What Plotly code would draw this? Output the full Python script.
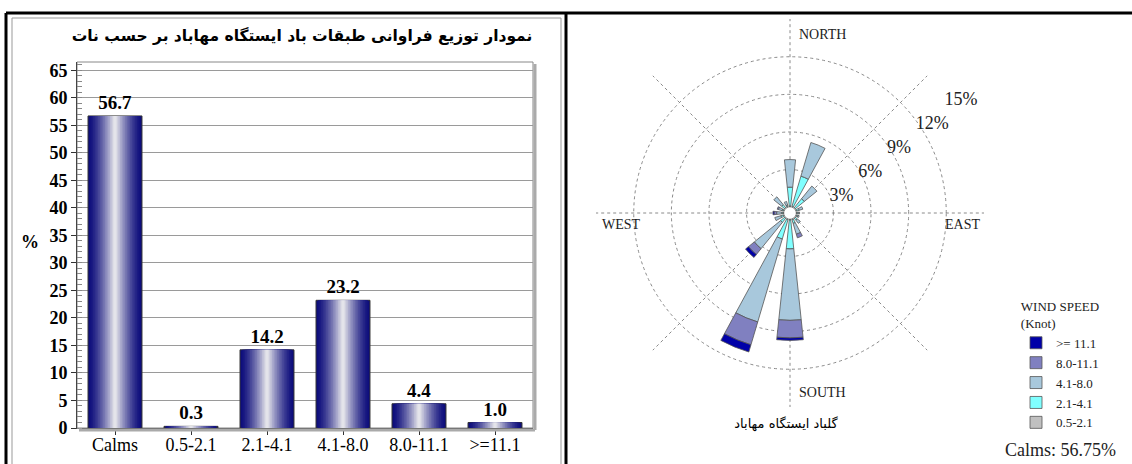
import plotly.graph_objects as go

# ---------------- data ----------------
bar_categories = ["Calms", "0.5-2.1", "2.1-4.1", "4.1-8.0", "8.0-11.1", ">=11.1"]
bar_values = [56.7, 0.3, 14.2, 23.2, 4.4, 1.0]

directions = [0, 22.5, 45, 67.5, 90, 112.5, 135, 157.5, 180, 202.5, 225, 247.5, 270, 292.5, 315, 337.5]
speed_05_21 = [0.1, 0.1, 0.1, 0.1, 0.1, 0.1, 0.1, 0.1, 0.1, 0.1, 0.1, 0.1, 0.1, 0.1, 0.1, 0.1]
speed_21_41 = [1.5, 2.5, 0.9, 0.2, 0.1, 0.1, 0.2, 0.3, 2.3, 1.6, 0.4, 0.2, 0.1, 0.1, 0.3, 0.1]
speed_41_80 = [2.2, 2.8, 1.3, 0.3, 0.1, 0.1, 0.3, 0.9, 5.7, 6.9, 2.7, 0.5, 0.4, 0.3, 0.8, 0.3]
speed_80_111 = [0, 0, 0, 0, 0, 0, 0, 0.3, 1.4, 1.9, 0.6, 0, 0.2, 0.1, 0, 0]
speed_111 = [0, 0, 0, 0, 0, 0, 0, 0, 0.2, 0.6, 0.3, 0, 0.1, 0, 0, 0]
speed_labels = ["0.5-2.1", "2.1-4.1", "4.1-8.0", "8.0-11.1", ">= 11.1"]
speed_colors = ["#C0C0C0", "#80FFFF", "#A8C8DC", "#8080C0", "#0000A8"]
radial_ticks = [3, 6, 9, 12, 15]
radial_ticktext = ["3%", "6%", "9%", "12%", "15%"]
calms_text = "Calms: 56.75%"

title_text = "نمودار توزیع فراوانی طبقات باد ایستگاه مهاباد بر حسب نات"
rose_caption = "گلباد ایستگاه مهاباد"

W, H = 1132, 464
SERIF = "Liberation Serif"

fig = go.Figure()

# ---------------- gradient bars (layered) ----------------
N = 16
bw = 0.71
edge = (14, 14, 124)
center = (228, 228, 234)
for i in range(N):
    t = i / (N - 1)
    k = t ** 1.4
    col = tuple(int(edge[j] + (center[j] - edge[j]) * k) for j in range(3))
    fig.add_trace(go.Bar(
        x=bar_categories, y=bar_values,
        width=bw * (1 - i / N),
        marker=dict(color="rgb(%d,%d,%d)" % col,
                    line=dict(color="#333" if i == 0 else "rgba(0,0,0,0)", width=1 if i == 0 else 0)),
        text=[f"{v:.1f}" for v in bar_values] if i == 0 else None,
        textposition="outside" if i == 0 else None,
        textfont=dict(family=SERIF, size=19, color="black", weight="bold"),
        cliponaxis=False,
        showlegend=False, hoverinfo="skip",
    ))

# ---------------- wind rose ----------------
speed_series = [speed_05_21, speed_21_41, speed_41_80, speed_80_111, speed_111]
for lbl, col, vals in zip(speed_labels, speed_colors, speed_series):
    fig.add_trace(go.Barpolar(
        r=vals, theta=directions, width=[12] * len(directions),
        name=lbl, marker=dict(color=col, line=dict(color="#555", width=0.8)),
        subplot="polar",
    ))

# ---------------- Persian captions (text drawn on a hidden full-page axis) ----------------
fig.add_trace(go.Scatter(x=[302], y=[37], mode="text", text=[title_text],
                         textfont=dict(family="DejaVu Sans", size=15.5, color="black", weight="bold"),
                         xaxis="x3", yaxis="y3", showlegend=False, hoverinfo="skip", cliponaxis=False))
fig.add_trace(go.Scatter(x=[786], y=[425], mode="text", text=[rose_caption],
                         textfont=dict(family="DejaVu Sans", size=13, color="black"),
                         xaxis="x3", yaxis="y3", showlegend=False, hoverinfo="skip", cliponaxis=False))

# ---------------- layout ----------------
px = lambda x: x / W
py = lambda y: 1 - y / H

fig.update_layout(
    width=W, height=H,
    margin=dict(l=0, r=0, t=0, b=0, autoexpand=False),
    paper_bgcolor="white", plot_bgcolor="rgba(0,0,0,0)",
    barmode="overlay",
    showlegend=True,
    xaxis=dict(domain=[px(77), px(533)], type="category",
               ticks="outside", ticklen=6, tickcolor="#333", ticklabelstandoff=-6,
               showline=True, linecolor="#444", linewidth=1, mirror=False,
               tickfont=dict(family=SERIF, size=18, color="black")),
    yaxis=dict(domain=[py(428), py(62)], range=[0, 66.5], dtick=5, tick0=0,
               ticks="outside", ticklen=5, tickcolor="#333",
               showline=True, linecolor="#444", linewidth=1,
               gridcolor="#9a9a9a", gridwidth=1, zeroline=False,
               minor=dict(dtick=1, ticks="inside", ticklen=5, tickcolor="#888", showgrid=False),
               tickfont=dict(family=SERIF, size=18, color="black", weight="bold")),
    xaxis3=dict(domain=[0, 1], range=[0, W], visible=False, anchor="y3", fixedrange=True),
    yaxis3=dict(domain=[0, 1], range=[H, 0], visible=False, anchor="x3", fixedrange=True),
    polar=dict(
        domain=dict(x=[px(790 - 194), px(790 + 194)], y=[py(213 + 194), py(213 - 194)]),
        hole=0.03, bgcolor="white",
        angularaxis=dict(rotation=90, direction="clockwise", showticklabels=False, ticks="",
                         showline=False, tickmode="linear", tick0=0, dtick=45,
                         gridcolor="#8a8a8a", griddash="dot", gridwidth=1),
        radialaxis=dict(range=[0, 15.01], tickmode="array", tickvals=radial_ticks,
                        ticktext=radial_ticktext, angle=40, tickangle=40,
                        side="clockwise", showline=False, ticks="",
                        gridcolor="#8a8a8a", griddash="dot", gridwidth=1,
                        tickfont=dict(family=SERIF, size=18, color="#222")),
    ),
    legend=dict(x=px(1016), y=py(294), xanchor="left", yanchor="top",
                traceorder="reversed", bgcolor="rgba(0,0,0,0)",
                font=dict(family=SERIF, size=13, color="#222"),
                title=dict(text="WIND SPEED<br>(Knot)", side="top center",
                           font=dict(family=SERIF, size=13, color="#222")),
                itemwidth=30, tracegroupgap=0),
)

# frame lines
fig.add_shape(type="line", xref="paper", yref="paper", x0=px(6), x1=1, y0=py(13), y1=py(13),
              line=dict(color="black", width=3))
fig.add_shape(type="line", xref="paper", yref="paper", x0=px(6), x1=px(6), y0=py(13), y1=-0.05,
              line=dict(color="black", width=3))
fig.add_shape(type="line", xref="paper", yref="paper", x0=px(566), x1=px(566), y0=py(13), y1=-0.05,
              line=dict(color="black", width=3))
fig.add_shape(type="rect", xref="paper", yref="paper", x0=px(12), x1=px(561), y0=-0.05, y1=py(18),
              line=dict(color="#999", width=1))
# plot-area border with shadow
fig.add_shape(type="rect", xref="paper", yref="paper", x0=px(77), x1=px(533), y0=py(428), y1=py(62),
              line=dict(color="#888", width=1), layer="below")
fig.add_shape(type="line", xref="paper", yref="paper", x0=px(535), x1=px(535), y0=py(430), y1=py(64),
              line=dict(color="#aaa", width=3))
fig.add_shape(type="line", xref="paper", yref="paper", x0=px(79), x1=px(535), y0=py(430), y1=py(430),
              line=dict(color="#aaa", width=3))

# texts
ann_font = dict(family=SERIF, size=14, color="#222")
fig.add_annotation(x=px(30), y=py(242), xref="paper", yref="paper", text="%",
                   xanchor="center", yanchor="middle",
                   showarrow=False, font=dict(family=SERIF, size=18, color="black", weight="bold"))
fig.add_annotation(x=px(797), y=py(34), xref="paper", yref="paper", text="NORTH",
                   xanchor="left", yanchor="middle", showarrow=False, font=ann_font)
fig.add_annotation(x=px(797), y=py(392), xref="paper", yref="paper", text="SOUTH",
                   xanchor="left", yanchor="middle", showarrow=False, font=ann_font)
fig.add_annotation(x=px(600), y=py(224), xref="paper", yref="paper", text="WEST",
                   xanchor="left", yanchor="middle", showarrow=False, font=ann_font)
fig.add_annotation(x=px(982), y=py(224), xref="paper", yref="paper", text="EAST",
                   xanchor="right", yanchor="middle", showarrow=False, font=ann_font)
fig.add_annotation(x=px(1060), y=py(450), xref="paper", yref="paper", text=calms_text,
                   xanchor="center", yanchor="middle",
                   showarrow=False, font=dict(family=SERIF, size=18, color="#222"))

fig.write_html("out.html", config={"displayModeBar": False},
               post_script="document.body.style.margin='0';")
